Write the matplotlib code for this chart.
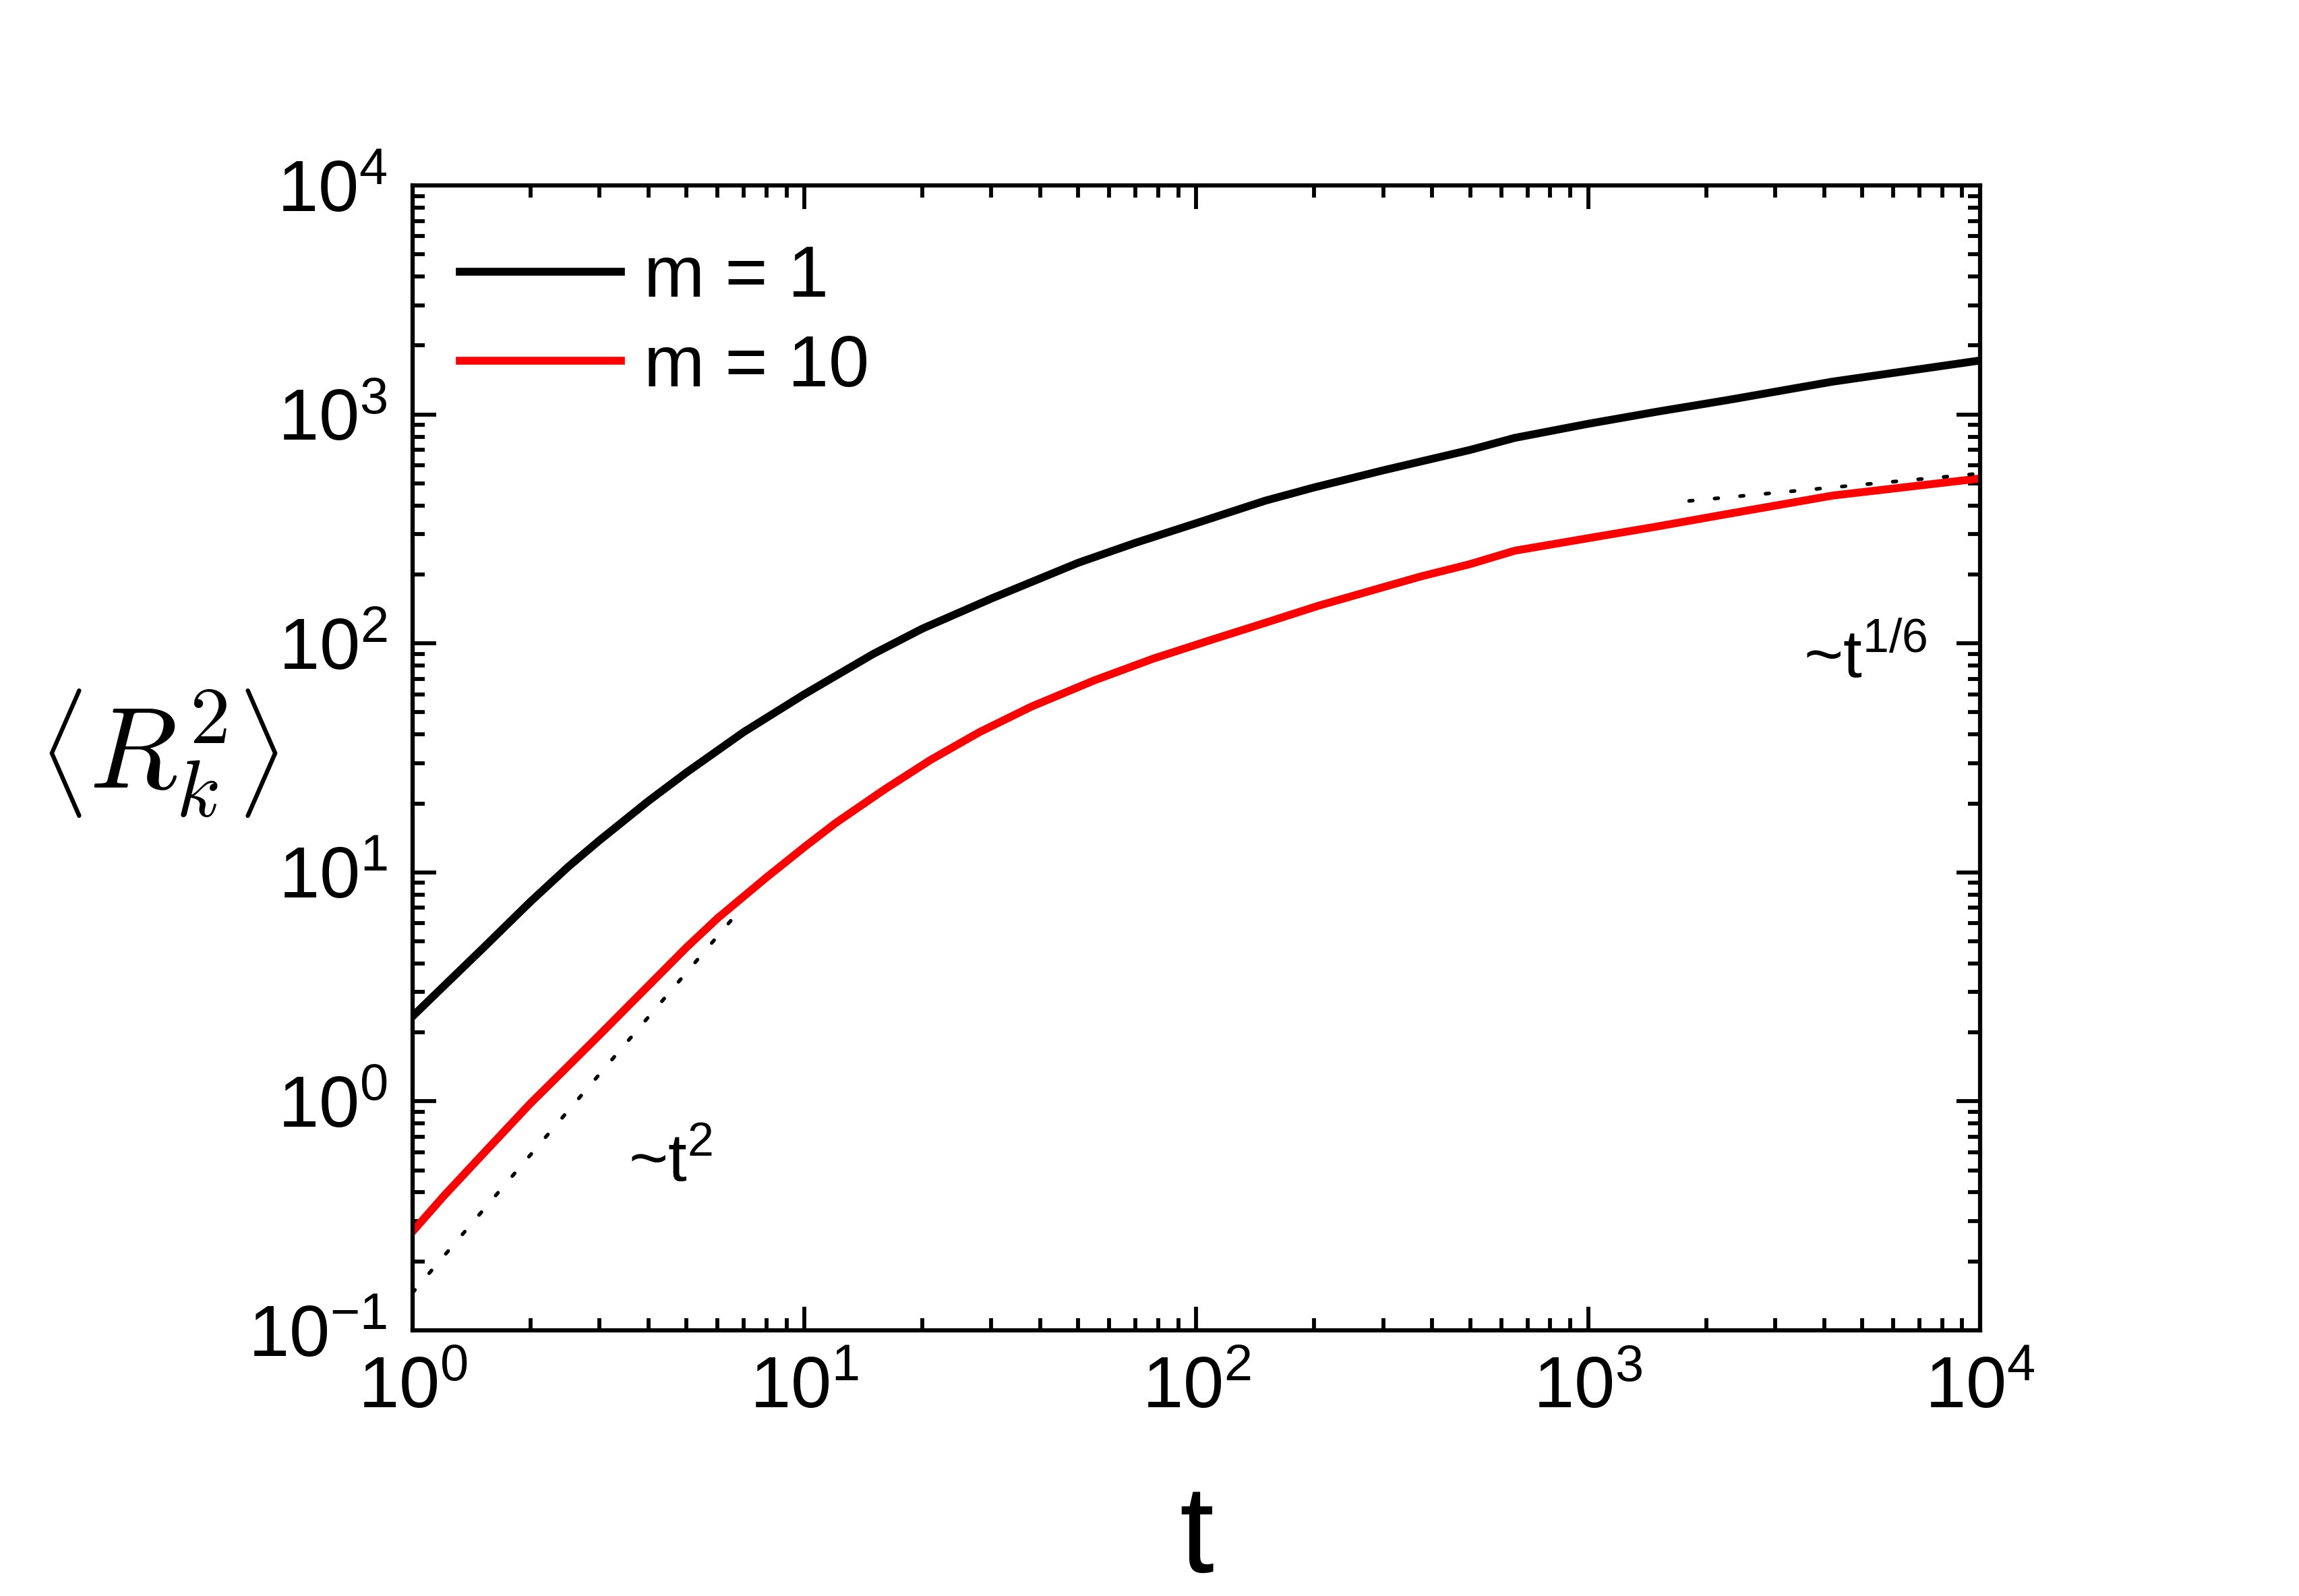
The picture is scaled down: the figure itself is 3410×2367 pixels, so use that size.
import numpy as np
import matplotlib
matplotlib.use("Agg")
import matplotlib.pyplot as plt

plt.rcParams['font.family'] = 'Liberation Sans'
plt.rcParams['mathtext.fontset'] = 'custom'
plt.rcParams['mathtext.rm'] = 'Liberation Sans'
plt.rcParams['mathtext.it'] = 'Liberation Sans:italic'
plt.rcParams['mathtext.bf'] = 'Liberation Sans:bold'
plt.rcParams['axes.unicode_minus'] = False

# m = 1 curve
t_m1 = [1, 1.2, 1.5, 2, 2.5, 3, 4, 5, 7, 10, 15, 20, 30, 50, 70, 100, 150,
        200, 300, 500, 650, 1000, 1500, 2300, 4200, 10000]
r_m1 = [2.35, 3.18, 4.6, 7.45, 10.6, 13.8, 20.5, 27.3, 41, 60, 90, 116, 157,
        225, 275, 335, 420, 480, 570, 700, 790, 910, 1028, 1160, 1390, 1720]

# m = 10 curve
t_m10 = [1, 1.2, 1.5, 2, 2.5, 3, 4, 5, 6, 8, 10, 12, 16, 21, 28, 38, 55, 78,
         110, 150, 205, 300, 374, 500, 650, 1000, 1500, 2300, 4200, 10000]
r_m10 = [0.27, 0.385, 0.58, 0.98, 1.43, 1.95, 3.2, 4.7, 6.3, 9.5, 12.9, 16.4,
         23, 31, 41, 53, 69, 86, 104, 123, 146, 176, 196, 222, 254, 288,
         324, 369, 442, 525]

# guide lines ~t^2 and ~t^(1/6)
t_guide2 = [1, 6.5]
r_guide2 = [0.146, 6.17]
t_guide6 = [1810, 10000]
r_guide6 = [419, 552]

fig = plt.figure(figsize=(3411 / 300, 2367 / 300), dpi=300)
ax = fig.add_axes([0.1794, 0.1665, 0.8610 - 0.1794, 0.8838 - 0.1665])

ax.plot(t_m1, r_m1, color='black', lw=2.8, label='m = 1')
ax.plot(t_m10, r_m10, color='#ff0000', lw=2.8, label='m = 10')
ax.plot(t_guide2, r_guide2, color='black', lw=1.3, ls=(0, (1, 6)),
        dash_capstyle='round')
ax.plot(t_guide6, r_guide6, color='black', lw=1.3, ls=(0, (1, 6)),
        dash_capstyle='round')

ax.set_xscale('log')
ax.set_yscale('log')
ax.set_xlim(1, 1e4)
ax.set_ylim(0.1, 1e4)

for s in ax.spines.values():
    s.set_linewidth(1.5)
ax.tick_params(which='both', direction='in', top=True, right=True, width=1.4)
ax.tick_params(which='major', length=8.5, labelsize=26, pad=9)
ax.tick_params(which='minor', length=4.3)

ax.text(3.56, 0.445, '~t$^{2}$', fontsize=24, ha='left', va='baseline')
ax.text(3540, 71, '~t$^{1/6}$', fontsize=24, ha='left', va='baseline')

ax.set_xlabel('t', fontsize=44, va='baseline')
ax.xaxis.set_label_coords(0.5, -0.2114)
ax.set_ylabel(r'$\left\langle R_k^2 \right\rangle$', fontsize=41,
              rotation=0, ha='center', va='center', math_fontfamily='cm')
ax.yaxis.set_label_coords(-0.162, 0.504)

ax.legend(loc='upper left', bbox_to_anchor=(0, 0.99), frameon=False,
          fontsize=26, handlelength=2.2, handletextpad=0.32,
          borderaxespad=0.3, borderpad=0.35, labelspacing=0.3)

fig.savefig('out.png', dpi=300)
